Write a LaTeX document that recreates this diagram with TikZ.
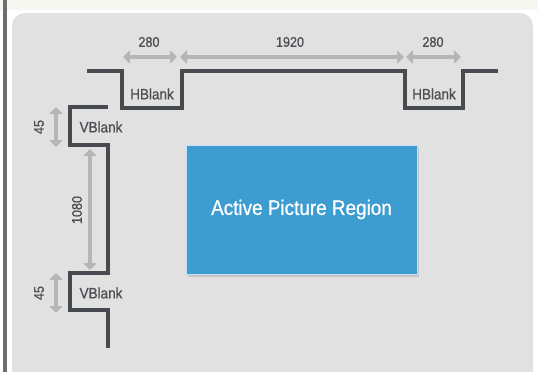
\documentclass[tikz,border=0pt]{standalone}
\usepackage{fontspec}
\setmainfont[FakeStretch=0.9,FakeBold=0.8]{Liberation Sans}
\usetikzlibrary{arrows.meta}
\definecolor{wave}{HTML}{474A4F}
\definecolor{dimgray}{HTML}{B3B6B9}
\definecolor{panel}{HTML}{E1E1E1}
\definecolor{strip}{HTML}{F6F7F0}
\definecolor{bar}{HTML}{6E6E70}
\definecolor{lbl}{HTML}{4B4E52}
\definecolor{active}{HTML}{3D9CD0}
\tikzset{
  wavepath/.style={draw=wave,line width=3.5pt,line join=miter},
  dimarrow/.style={draw=dimgray,line width=4pt,{Triangle[length=7pt,width=13pt]}-{Triangle[length=7pt,width=13pt]}},
  numlbl/.style={text=lbl,font=\fontsize{14}{14}\selectfont,inner sep=0pt},
  blanklbl/.style={text=lbl,font=\fontsize{15}{15}\selectfont,inner sep=0pt},
  activebox/.style={fill=active,draw=white!70!active,line width=0.8pt,minimum width=231pt,minimum height=129pt,inner sep=0pt,text=white,font=\fontsize{21}{21}\selectfont}
}
\begin{document}
\begin{tikzpicture}[x=1pt,y=-1pt]
\useasboundingbox (0,0) rectangle (538,372);
\fill[white] (0,0) rectangle (538,372);
\fill[strip] (0,0) rectangle (538,10);
\fill[bar] (3,0) rectangle (7,372);
\fill[panel,rounded corners=13pt] (12,13) rectangle (533,384);
% top waveform
\coordinate (t0) at (87,71);
\coordinate (t1) at (122,71);
\coordinate (t2) at (122,108);
\coordinate (t3) at (182,108);
\coordinate (t4) at (182,71);
\coordinate (t5) at (405,71);
\coordinate (t6) at (405,108);
\coordinate (t7) at (463,108);
\coordinate (t8) at (463,71);
\coordinate (t9) at (498,71);
\draw[wavepath] (t0) -- (t1) -- (t2) -- (t3) -- (t4) -- (t5) -- (t6) -- (t7) -- (t8) -- (t9);
% left waveform
\coordinate (l0) at (108,107);
\coordinate (l1) at (70,107);
\coordinate (l2) at (70,145);
\coordinate (l3) at (108,145);
\coordinate (l4) at (108,273);
\coordinate (l5) at (70,273);
\coordinate (l6) at (70,310);
\coordinate (l7) at (108,310);
\coordinate (l8) at (108,348);
\draw[wavepath] (l0) -- (l1) -- (l2) -- (l3) -- (l4) -- (l5) -- (l6) -- (l7) -- (l8);
% horizontal dimensions
\coordinate (ha1) at (123,57); \coordinate (hb1) at (177,57);
\coordinate (ha2) at (180,57); \coordinate (hb2) at (404,57);
\coordinate (ha3) at (406,57); \coordinate (hb3) at (461,57);
\draw[dimarrow] (ha1) -- (hb1);
\draw[dimarrow] (ha2) -- (hb2);
\draw[dimarrow] (ha3) -- (hb3);
\node[numlbl] (n280a) at (149,42) {280};
\node[numlbl] (n1920) at (290,42) {1920};
\node[numlbl] (n280b) at (433,42) {280};
% vertical dimensions
\coordinate (va1) at (56,107); \coordinate (vb1) at (56,147);
\coordinate (va2) at (90,149); \coordinate (vb2) at (90,270);
\coordinate (va3) at (56,273); \coordinate (vb3) at (56,313);
\draw[dimarrow] (va1) -- (vb1);
\draw[dimarrow] (va2) -- (vb2);
\draw[dimarrow] (va3) -- (vb3);
\node[numlbl,rotate=90] (n45a) at (39,127) {45};
\node[numlbl,rotate=90] (n1080) at (77,210) {1080};
\node[numlbl,rotate=90] (n45b) at (39,293) {45};
% blank labels
\node[blanklbl] (hb1l) at (152,94) {HBlank};
\node[blanklbl] (hb2l) at (434,94) {HBlank};
\node[blanklbl] (vb1l) at (101,127) {VBlank};
\node[blanklbl] (vb2l) at (101,293) {VBlank};
% active region
\fill[black,opacity=0.12] (188,147) rectangle (419,277);
\node[activebox] (act) at (301.5,209.5) {Active Picture Region};
\end{tikzpicture}
\end{document}
